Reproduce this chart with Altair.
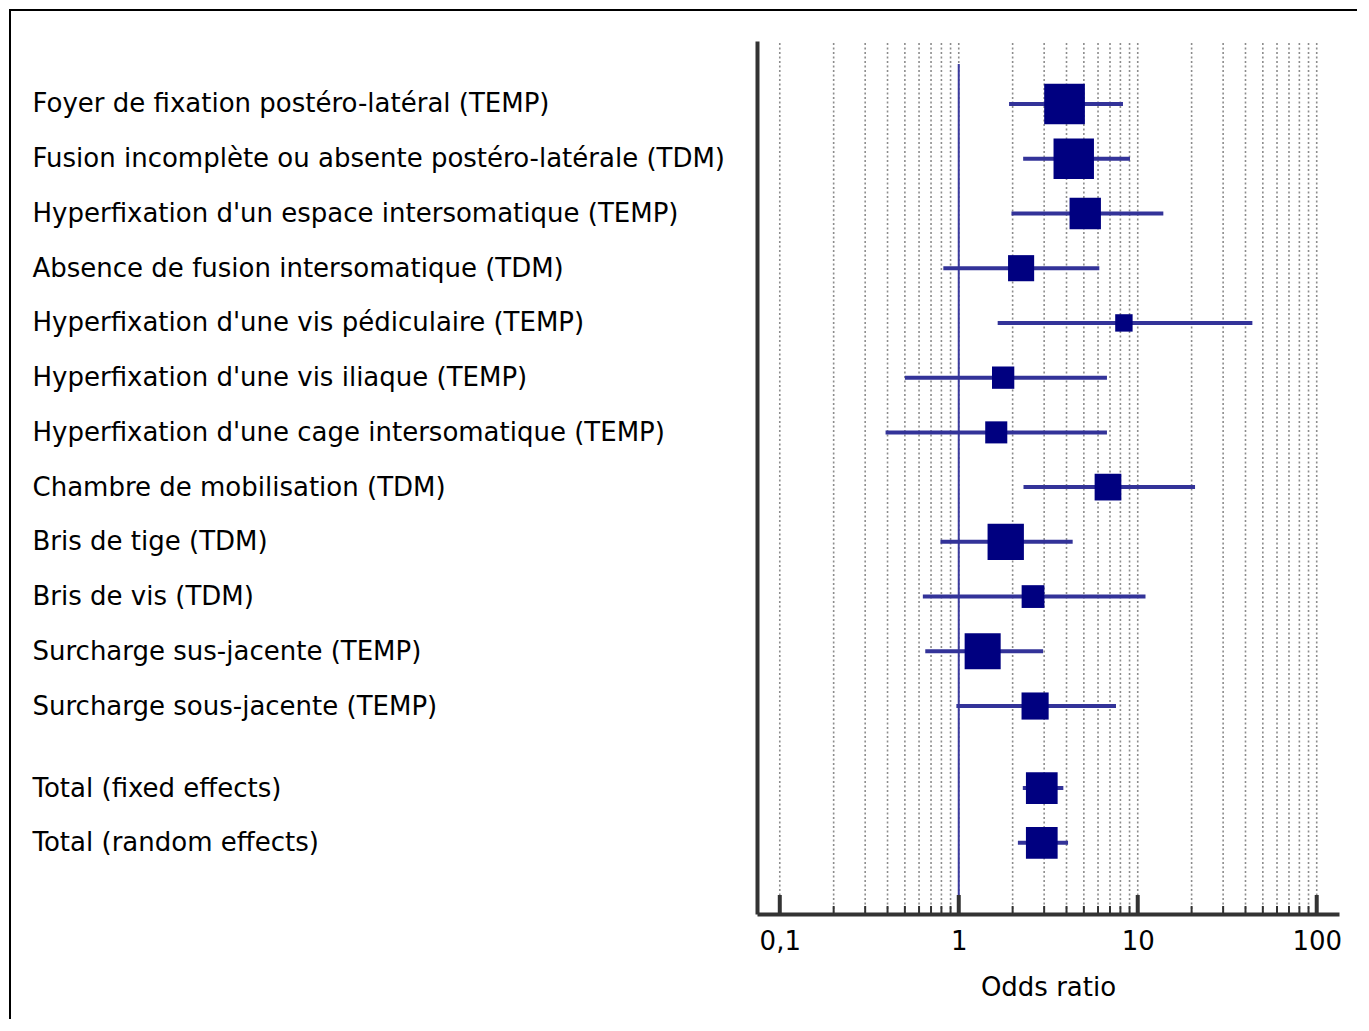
import json
import altair as alt
import pandas as pd

labels = [
    "Foyer de fixation postéro-latéral (TEMP)",
    "Fusion incomplète ou absente postéro-latérale (TDM)",
    "Hyperfixation d'un espace intersomatique (TEMP)",
    "Absence de fusion intersomatique (TDM)",
    "Hyperfixation d'une vis pédiculaire (TEMP)",
    "Hyperfixation d'une vis iliaque (TEMP)",
    "Hyperfixation d'une cage intersomatique (TEMP)",
    "Chambre de mobilisation (TDM)",
    "Bris de tige (TDM)",
    "Bris de vis (TDM)",
    "Surcharge sus-jacente (TEMP)",
    "Surcharge sous-jacente (TEMP)",
    "Total (fixed effects)",
    "Total (random effects)",
]
row_pos = [0, 1, 2, 3, 4, 5, 6, 7, 8, 9, 10, 11, 12.5, 13.5]
odds = [3.90, 4.39, 5.09, 2.23, 8.37, 1.77, 1.62, 6.82, 1.83, 2.60, 1.36, 2.67, 2.91, 2.91]
lower = [1.91, 2.29, 1.97, 0.82, 1.65, 0.50, 0.39, 2.30, 0.79, 0.63, 0.65, 0.97, 2.28, 2.14]
upper = [8.27, 9.05, 13.9, 6.10, 43.7, 6.73, 6.73, 20.9, 4.33, 11.05, 2.96, 7.56, 3.84, 4.08]
weights = [15.3, 15.1, 9.1, 6.3, 2.8, 4.6, 4.5, 6.6, 12.2, 4.8, 12.0, 6.8]

major_ticks = [0.1, 1, 10, 100]
minor_ticks = [0.2, 0.3, 0.4, 0.5, 0.6, 0.7, 0.8, 0.9,
               2, 3, 4, 5, 6, 7, 8, 9,
               20, 30, 40, 50, 60, 70, 80, 90]
grid_ticks = sorted(major_ticks + minor_ticks)

W, H = 582, 873
FONT = "DejaVu Sans"

df = pd.DataFrame({"label": labels, "pos": row_pos, "or": odds, "lo": lower, "hi": upper})
studies = df.iloc[:12].copy()
studies["w"] = weights
totals = df.iloc[12:].copy()

xscale = alt.Scale(type="log", domain=[0.0746, 133.2], nice=False, zero=False)
yscale = alt.Scale(domain=[-1.1511, 14.80], reverse=True, nice=False, zero=False)

label_expr = (
    json.dumps(labels, ensure_ascii=False)
    + "[indexof(" + json.dumps(row_pos) + ", datum.value)]"
)

x_axis = alt.Axis(
    values=major_ticks,
    labelExpr="replace(toString(datum.value), '.', ',')",
    grid=False, ticks=False, tickSize=0,
    domain=True, domainWidth=4, domainColor="#333333",
    labelFont=FONT, labelFontSize=26, labelColor="black", labelPadding=14,
    title="Odds ratio", titleFont=FONT, titleFontSize=26, titleFontWeight="normal",
    titleColor="black", titlePadding=20,
)
y_axis = alt.Axis(
    values=row_pos, labelExpr=label_expr,
    grid=False, ticks=False, tickSize=0,
    domain=True, domainWidth=4, domainColor="#333333",
    labelFont=FONT, labelFontSize=26, labelColor="black",
    labelAlign="left", labelBaseline="middle", labelPadding=725, labelLimit=1000,
    title=None,
)

base = alt.Chart(df)

grid = alt.Chart(pd.DataFrame({"t": grid_ticks})).mark_rule(
    color="#8c8c8c", strokeWidth=1.6, strokeDash=[2, 2.5]
).encode(x=alt.X("t:Q", scale=xscale, axis=x_axis), y=alt.value(2), y2=alt.value(H))

ref = alt.Chart(pd.DataFrame({"t": [1]})).mark_rule(
    color="#3b3b9e", strokeWidth=2
).encode(x=alt.X("t:Q", scale=xscale), y=alt.value(23), y2=alt.value(H))

ci = base.mark_rule(color="#333399", strokeWidth=4).encode(
    x=alt.X("lo:Q", scale=xscale),
    x2="hi:Q",
    y=alt.Y("pos:Q", scale=yscale, axis=y_axis),
)

sq = alt.Chart(studies).mark_square(filled=True, color="#000080", opacity=1).encode(
    x=alt.X("or:Q", scale=xscale),
    y=alt.Y("pos:Q", scale=yscale),
    size=alt.Size("w:Q", scale=alt.Scale(domain=[0, 15.3], range=[0, 1656]), legend=None),
)
sq_tot = alt.Chart(totals).mark_square(filled=True, color="#000080", opacity=1, size=1005).encode(
    x=alt.X("or:Q", scale=xscale),
    y=alt.Y("pos:Q", scale=yscale),
)

maj = alt.Chart(pd.DataFrame({"t": major_ticks})).mark_rule(
    color="#333333", strokeWidth=4
).encode(x=alt.X("t:Q", scale=xscale), y=alt.value(H - 19), y2=alt.value(H))
mino = alt.Chart(pd.DataFrame({"t": minor_ticks})).mark_rule(
    color="#333333", strokeWidth=2
).encode(x=alt.X("t:Q", scale=xscale), y=alt.value(H - 8), y2=alt.value(H))

one = pd.DataFrame({"a": [0]})
frame_top = alt.Chart(one).mark_rule(color="black", strokeWidth=2).encode(
    x=alt.value(-748), x2=alt.value(600), y=alt.value(-31)
)
frame_left = alt.Chart(one).mark_rule(color="black", strokeWidth=2).encode(
    x=alt.value(-747), y=alt.value(-32), y2=alt.value(978)
)

chart = alt.layer(
    grid, ref, ci, sq, sq_tot, maj, mino, frame_top, frame_left
).properties(
    width=W, height=H, padding=0, background="white"
).configure_view(stroke=None)

chart.save("out.html", embed_options={"renderer": "svg", "actions": False})
